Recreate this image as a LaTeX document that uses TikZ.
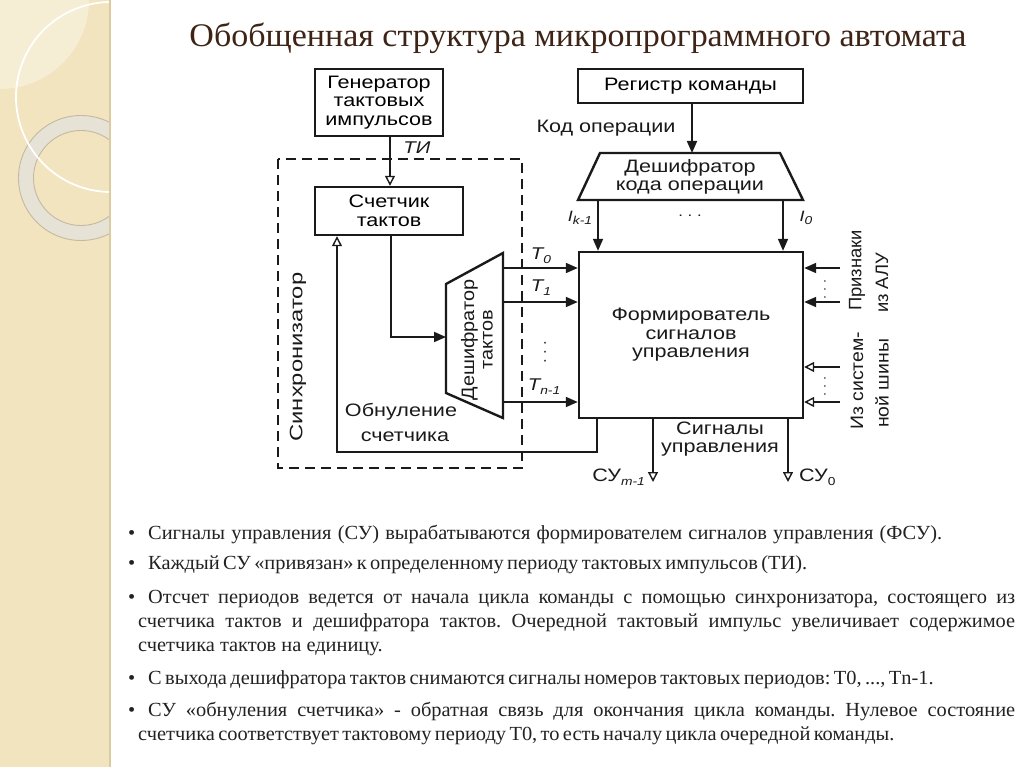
\documentclass[tikz,border=0pt]{standalone}
\usepackage{fontspec}
\usepackage{graphicx}
\setmainfont{Liberation Serif}
\newfontfamily\dfont[FakeStretch=1.2]{Liberation Sans}
\newfontfamily\bfontx[FakeStretch=1.02]{Liberation Serif}
\newfontfamily\tfontx[FakeStretch=1.03]{Liberation Serif}
\usetikzlibrary{arrows.meta}
\frenchspacing
\definecolor{strip}{HTML}{F2E4BF}
\definecolor{stripedge}{HTML}{DCCBA0}
\definecolor{ringc}{HTML}{E6E2D6}
\definecolor{ringedge}{HTML}{C4BAA2}
\definecolor{titlec}{HTML}{3E2416}
\definecolor{txtc}{HTML}{222222}
\definecolor{ln}{HTML}{1A1A1A}
\newcommand{\sbs}[1]{\raisebox{-0.45ex}{\fontsize{11.5}{11.5}\selectfont #1}}
\tikzset{
  box/.style={draw=ln, line width=2.4pt, fill=white, align=center, inner sep=0pt, font=\dfont\fontsize{18}{18.5}\selectfont},
  dtxt/.style={align=center, inner sep=1pt, font=\dfont\fontsize{18}{18.5}\selectfont, text=ln},
  itxt/.style={inner sep=1pt, font=\dfont\itshape\fontsize{17}{18}\selectfont, text=ln},
  conn/.style={draw=ln, line width=1.8pt},
  farr/.style={conn, -{Triangle[length=12pt,width=10pt]}},
  oarr/.style={conn, -{Triangle[open,length=10pt,width=10pt,line width=1.4pt]}},
  bline/.style={anchor=base west, inner sep=0pt, text=txtc, font=\bfontx\fontsize{20}{24}\selectfont},
  bul/.style={anchor=base west, inner sep=0pt, text=txtc, font=\bfontx\fontsize{20}{24}\selectfont}
}
\begin{document}
\begin{tikzpicture}[x=1pt,y=-1pt]
\useasboundingbox (0,0) rectangle (1024,767);
\fill[white] (0,0) rectangle (1024,767);
% left decorative strip
\begin{scope}
\clip (0,0) rectangle (110,767);
\fill[strip] (0,0) rectangle (110,767);
\fill[white, opacity=0.35] (0,0) circle (89);
\draw[ringc, line width=15pt] (81,178) circle (55);
\draw[ringedge, line width=0.9pt] (81,178) circle (62.5) (81,178) circle (47.5);
\draw[white, line width=1.8pt] (111,97) circle (95);
\end{scope}
\draw[stripedge, line width=1.2pt] (110,0) -- (110,767);
% title
\node[inner sep=0pt, anchor=base, text=titlec, font=\tfontx\fontsize{33}{36}\selectfont] (title) at (578,47) {Обобщенная структура микропрограммного автомата};
% boxes
\node[box, minimum width=128pt, minimum height=67pt] (gen) at (379,102.5) {Генератор\\тактовых\\импульсов};
\node[box, minimum width=148pt, minimum height=48pt] (cnt) at (389,211) {Счетчик\\тактов};
\node[box, minimum width=225pt, minimum height=34pt] (reg) at (690.5,86) {Регистр команды};
\node[box, minimum width=224pt, minimum height=166pt] (fsu) at (691,335) {};
\node[dtxt] (fsut) at (691,335) {Формирователь\\сигналов\\управления};
% synchronizer dashed frame
\draw[ln, line width=1.6pt, dash pattern=on 10pt off 6pt] (278,159) rectangle (522,468);
\node[dtxt, rotate=90] (sync) at (298,357) {\scalebox{1.1}[1]{Синхронизатор}};
% code decoder trapezoid
\coordinate (kd1) at (600,153); \coordinate (kd2) at (780,153);
\coordinate (kd3) at (803,200); \coordinate (kd4) at (578,200);
\draw[ln, line width=2.4pt, fill=white] (kd1) -- (kd2) -- (kd3) -- (kd4) -- cycle;
\node[dtxt] (kdt) at (690,177) {Дешифратор\\кода операции};
% tact decoder trapezoid
\coordinate (td1) at (446,284); \coordinate (td2) at (503,253);
\coordinate (td3) at (503,418); \coordinate (td4) at (446,393);
\draw[ln, line width=2.4pt, fill=white] (td1) -- (td2) -- (td3) -- (td4) -- cycle;
\node[dtxt, rotate=90] (tdt) at (477,340) {\scalebox{0.92}[1]{Дешифратор}\\\scalebox{0.92}[1]{тактов}};
% connectors
\coordinate (tix) at (390,0);
\draw[oarr] (gen.south -| tix) -- (cnt.north -| tix);
\node[itxt] (ti) at (417,148) {ТИ};
\coordinate (cx) at (391,337);
\coordinate (tdin) at (446,337);
\draw[farr] (cnt.south -| cx) -- (cx) -- (tdin);
\coordinate (t0s) at (503,268);
\coordinate (t1s) at (503,302);
\coordinate (tns) at (503,402);
\draw[farr] (t0s) -- (fsu.west |- t0s);
\draw[farr] (t1s) -- (fsu.west |- t1s);
\draw[farr] (tns) -- (fsu.west |- tns);
\node[itxt] (t0l) at (541,256) {T\sbs{0}};
\node[itxt] (t1l) at (541,288) {T\sbs{1}};
\node[itxt] (tnl) at (544,387) {T\sbs{n-1}};
\node[inner sep=0pt, font=\dfont\fontsize{14}{14}\selectfont, text=ln, rotate=90] (tdots) at (545,352) {. . .};
% feedback
\coordinate (fb) at (597,452);
\coordinate (fbx) at (337,0);
\draw[oarr] (fsu.south -| fb) -- (fb) -| (cnt.south -| fbx);
\node[dtxt] (obn) at (401,412) {Обнуление};
\node[dtxt] (obn2) at (405,437) {счетчика};
% register to code decoder
\coordinate (kdx) at (692,0);
\draw[farr] (reg.south -| kdx) -- (kd1 -| kdx);
\node[dtxt] (kop) at (606,128) {Код операции};
% I arrows
\coordinate (ik) at (598,200);
\coordinate (i0) at (783,200);
\draw[farr] (ik) -- (fsu.north -| ik);
\draw[farr] (i0) -- (fsu.north -| i0);
\node[itxt, font=\dfont\itshape\fontsize{15}{18}\selectfont] (ikl) at (580,218) {I\sbs{k-1}};
\node[itxt, font=\dfont\itshape\fontsize{15}{18}\selectfont] (i0l) at (806,218) {I\sbs{0}};
\node[inner sep=0pt, font=\dfont\fontsize{14}{14}\selectfont, text=ln] (idots) at (690,216) {. . .};
% right inputs
\coordinate (p1) at (840,268);
\coordinate (p2) at (840,302);
\coordinate (p3) at (840,367);
\coordinate (p4) at (840,402);
\draw[farr] (p1) -- (fsu.east |- p1);
\draw[farr] (p2) -- (fsu.east |- p2);
\draw[oarr] (p3) -- (fsu.east |- p3);
\draw[oarr] (p4) -- (fsu.east |- p4);
\node[inner sep=0pt, font=\dfont\fontsize{12}{12}\selectfont, text=ln, rotate=90] (rd1) at (825,289) {. . .};
\node[inner sep=0pt, font=\dfont\fontsize{12}{12}\selectfont, text=ln, rotate=90] (rd2) at (825,386) {. . .};
\node[dtxt, rotate=90, anchor=west] (pr1) at (857,312) {\scalebox{0.85}[1]{Признаки}};
\node[dtxt, rotate=90, anchor=west] (pr2) at (882,314) {\scalebox{0.85}[1]{из АЛУ}};
\node[dtxt, rotate=90, anchor=west] (ss1) at (857,431) {\scalebox{0.9}[1]{Из систем-}};
\node[dtxt, rotate=90, anchor=west] (ss2) at (882,429) {\scalebox{0.9}[1]{ной шины}};
% outputs
\coordinate (su1) at (653,482);
\coordinate (su0) at (788,482);
\draw[oarr] (fsu.south -| su1) -- (su1);
\draw[oarr] (fsu.south -| su0) -- (su0);
\node[dtxt] (sigu) at (720,439) {Сигналы\\управления};
\node[dtxt, anchor=east] (su1l) at (646,477) {СУ\sbs{\itshape m-1}};
\node[dtxt, anchor=west] (su0l) at (798,477) {СУ\sbs{0}};
% bullet text
\node[bul] (b1) at (128,539) {•};
\node[bline] (l1) at (148,539) {\makebox[794pt][s]{Сигналы управления (СУ) вырабатываются формирователем сигналов управления (ФСУ).}};
\node[bul] (b2) at (128,569) {•};
\node[bline] (l2) at (148,569) {\makebox[658pt][s]{Каждый СУ «привязан» к определенному периоду тактовых импульсов (ТИ).}};
\node[bul] (b3) at (128,603) {•};
\node[bline] (l3) at (148,603) {\makebox[867pt][s]{Отсчет периодов ведется от начала цикла команды с помощью синхронизатора, состоящего из}};
\node[bline] (l3b) at (138,627) {\makebox[877pt][s]{счетчика тактов и дешифратора тактов. Очередной тактовый импульс увеличивает содержимое}};
\node[bline] (l3c) at (138,651) {счетчика тактов на единицу.};
\node[bul] (b4) at (128,684) {•};
\node[bline] (l4) at (148,684) {\makebox[784pt][s]{С выхода дешифратора тактов снимаются сигналы номеров тактовых периодов: T0, ..., Tn-1.}};
\node[bul] (b5) at (128,716) {•};
\node[bline] (l5) at (148,716) {\makebox[867pt][s]{СУ «обнуления счетчика» - обратная связь для окончания цикла команды. Нулевое состояние}};
\node[bline] (l5b) at (138,740) {\makebox[755pt][s]{счетчика соответствует тактовому периоду T0, то есть началу цикла очередной команды.}};
\end{tikzpicture}
\end{document}
